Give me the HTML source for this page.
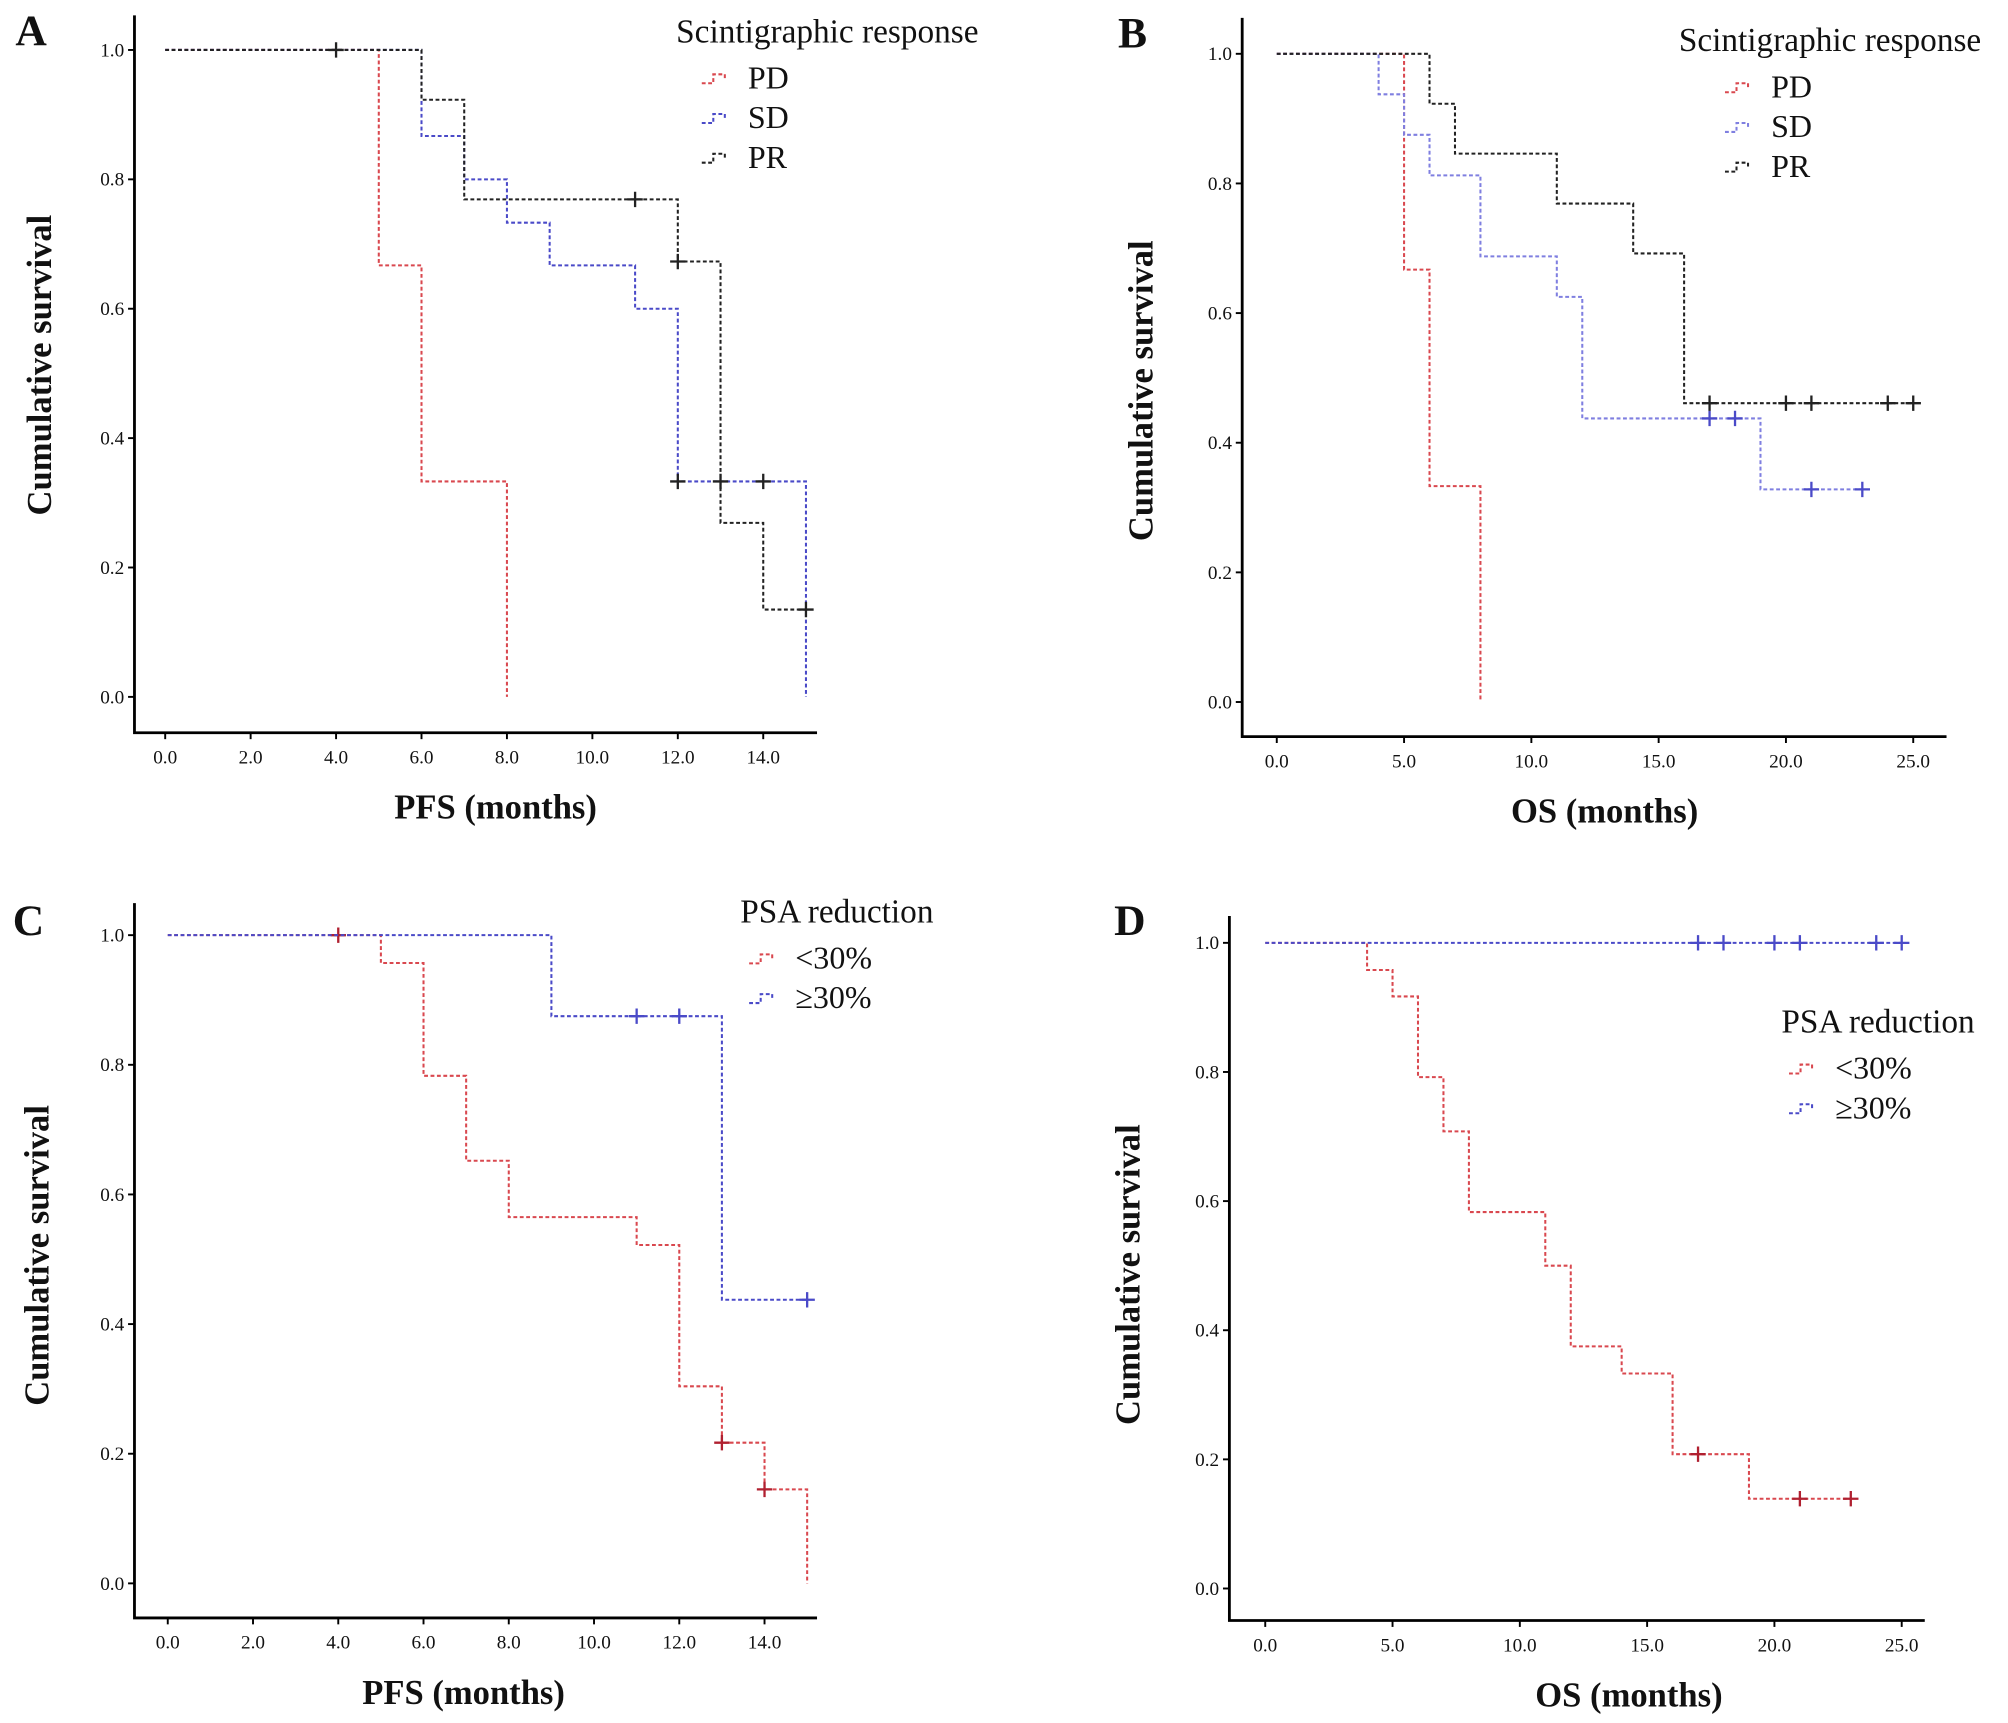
<!DOCTYPE html>
<html><head><meta charset="utf-8"><style>
html,body{margin:0;padding:0;background:#fff}
svg{display:block}
text{font-family:"Liberation Serif",serif;fill:#111}
</style></head><body>
<svg id="fig" width="2008" height="1723" viewBox="0 0 1568 1345" preserveAspectRatio="none" xmlns="http://www.w3.org/2000/svg"></svg>
<script>
// ---- Panel A data (PFS, scintigraphic response)
const aPD_t=[0,5,6,8], aPD_s=[1,0.667,0.333,0], aPD_end=8, aPD_ct=[], aPD_cs=[];
const aSD_t=[0,6,7,8,9,11,12,15], aSD_s=[1,0.867,0.8,0.733,0.667,0.6,0.333,0], aSD_end=15, aSD_ct=[12,13,14], aSD_cs=[0.333,0.333,0.333];
const aPR_t=[0,6,7,12,13,14], aPR_s=[1,0.923,0.769,0.673,0.269,0.135], aPR_end=15, aPR_ct=[4,11,12,15], aPR_cs=[1,0.769,0.673,0.135];
// ---- Panel B data (OS, scintigraphic response)
const bPD_t=[0,5,6,8], bPD_s=[1,0.667,0.333,0], bPD_end=8, bPD_ct=[], bPD_cs=[];
const bSD_t=[0,4,5,6,8,11,12,19], bSD_s=[1,0.9375,0.875,0.8125,0.6875,0.625,0.4375,0.328], bSD_end=23, bSD_ct=[17,18,21,23], bSD_cs=[0.4375,0.4375,0.328,0.328];
const bPR_t=[0,6,7,11,14,16], bPR_s=[1,0.923,0.846,0.769,0.692,0.461], bPR_end=25, bPR_ct=[17,20,21,24,25], bPR_cs=[0.461,0.461,0.461,0.461,0.461];
// ---- Panel C data (PFS, PSA reduction)
const cLo_t=[0,5,6,7,8,11,12,13,14,15], cLo_s=[1,0.957,0.783,0.652,0.565,0.522,0.304,0.217,0.145,0], cLo_end=15, cLo_ct=[4,13,14], cLo_cs=[1,0.217,0.145];
const cHi_t=[0,9,13], cHi_s=[1,0.875,0.4375], cHi_end=15, cHi_ct=[11,12,15], cHi_cs=[0.875,0.875,0.4375];
// ---- Panel D data (OS, PSA reduction)
const dLo_t=[0,4,5,6,7,8,11,12,14,16,19], dLo_s=[1,0.958,0.917,0.792,0.708,0.583,0.5,0.375,0.333,0.208,0.139], dLo_end=23, dLo_ct=[17,21,23], dLo_cs=[0.208,0.139,0.139];
const dHi_t=[0], dHi_s=[1], dHi_end=25, dHi_ct=[17,18,20,21,24,25], dHi_cs=[1,1,1,1,1,1];
// ---- tick labels
const yTicks=[0,0.2,0.4,0.6,0.8,1.0];
const xTicksPFS=[0,2,4,6,8,10,12,14];
const xTicksOS=[0,5,10,15,20,25];

const NS="http://www.w3.org/2000/svg";
const svg=document.getElementById('fig');
function mk(tag,attrs,parent){const e=document.createElementNS(NS,tag);for(const k in attrs)e.setAttribute(k,attrs[k]);(parent||svg).appendChild(e);return e;}

const RED="#d9484f", BLUE="#4a4ac8", LAV="#7f7fe0", BLK="#222";

function panel(cfg){
  const g=mk('g',{});
  
  
  const X=v=>cfg.x0+(v-cfg.xmin)*(cfg.x1-cfg.x0)/(cfg.xmax-cfg.xmin);
  const Y=v=>cfg.y0+(1-v)*(cfg.y1-cfg.y0);
  const ax=mk('path',{d:`M${cfg.ax} ${cfg.atop} V${cfg.ay} H${cfg.aright}`,stroke:'#000','stroke-width':2.2,fill:'none'},g);
  
  
  yTicks.forEach(v=>{
    mk('line',{x1:cfg.ax-5,x2:cfg.ax,y1:Y(v),y2:Y(v),stroke:'#000','stroke-width':1.5},g);
    const t=mk('text',{x:cfg.ax-8,y:Y(v)+5,'text-anchor':'end','font-size':15},g);
    t.textContent=v.toFixed(1);
    
    
  });
  cfg.xt.forEach(v=>{
    mk('line',{x1:X(v),x2:X(v),y1:cfg.ay,y2:cfg.ay+5,stroke:'#000','stroke-width':1.5},g);
    const t=mk('text',{x:X(v),y:cfg.ay+24,'text-anchor':'middle','font-size':15},g);
    t.textContent=v.toFixed(1);
    
    
  });
  const xt=mk('text',{x:cfg.xtx,y:cfg.ay+67,'text-anchor':'middle','font-size':27,'font-weight':'bold'},g);
  xt.textContent=cfg.xtitle;
  
  
  const yt=mk('text',{x:0,y:0,'text-anchor':'middle','font-size':27,'font-weight':'bold',transform:`translate(${cfg.ytx},${cfg.yty}) rotate(-90)`},g);
  yt.textContent='Cumulative survival';
  
  
  const lt=mk('text',{x:cfg.lx,y:cfg.ly,'font-size':34,'font-weight':'bold'},g);
  lt.textContent=cfg.id;
  
  
  cfg.series.forEach(s=>{
    let d=`M${X(s.t[0])} ${Y(s.s[0])}`;
    for(let i=1;i<s.t.length;i++){d+=` H${X(s.t[i])} V${Y(s.s[i])}`;}
    d+=` H${X(s.end)}`;
    const p=mk('path',{d:d,stroke:s.c,'stroke-width':1.6,fill:'none','stroke-dasharray':'3 2'},g);
    
    
    s.ct.forEach((t,i)=>{
      const cx=X(t),cy=Y(s.cs[i]);
      const m=mk('path',{d:`M${cx-6} ${cy} H${cx+6} M${cx} ${cy-6} V${cy+6}`,stroke:s.mc||s.c,'stroke-width':1.8},g);
      
      
    });
  });
  const ltl=mk('text',{x:cfg.legx,y:cfg.legy,'font-size':26},g);
  ltl.textContent=cfg.legTitle;
  
  
  cfg.series.forEach((s,i)=>{
    const yy=cfg.legy+32+31*i;
    const sx=cfg.symx;
    const sym=mk('path',{d:`M${sx} ${yy} H${sx+9} V${yy-7} H${sx+18} V${yy-2}`,stroke:s.c,'stroke-width':1.6,fill:'none','stroke-dasharray':'3 2'},g);
    
    
    const tx=mk('text',{x:sx+36,y:yy+4,'font-size':25},g);
    tx.textContent=s.label;
    
    
  });
}

panel({id:'A',xmin:0,xmax:14,x0:129,x1:596,y0:39,y1:544,ax:105,atop:12,ay:572,aright:638,xt:xTicksPFS,
  xtitle:'PFS (months)',xtx:387,ytx:40,yty:285,lx:12,ly:35,legTitle:'Scintigraphic response',legx:528,legy:33,symx:548,
  series:[{name:'pd',label:'PD',t:aPD_t,s:aPD_s,end:aPD_end,ct:aPD_ct,cs:aPD_cs,c:RED},
          {name:'sd',label:'SD',t:aSD_t,s:aSD_s,end:aSD_end,ct:aSD_ct,cs:aSD_cs,c:BLUE,mc:BLK},
          {name:'pr',label:'PR',t:aPR_t,s:aPR_s,end:aPR_end,ct:aPR_ct,cs:aPR_cs,c:BLK}]});
panel({id:'B',xmin:0,xmax:25,x0:997,x1:1494,y0:42,y1:548,ax:970,atop:14,ay:575,aright:1520,xt:xTicksOS,
  xtitle:'OS (months)',xtx:1253,ytx:900,yty:305,lx:873,ly:37,legTitle:'Scintigraphic response',legx:1311,legy:40,symx:1347,
  series:[{name:'pd',label:'PD',t:bPD_t,s:bPD_s,end:bPD_end,ct:bPD_ct,cs:bPD_cs,c:RED},
          {name:'sd',label:'SD',t:bSD_t,s:bSD_s,end:bSD_end,ct:bSD_ct,cs:bSD_cs,c:LAV,mc:BLUE},
          {name:'pr',label:'PR',t:bPR_t,s:bPR_s,end:bPR_end,ct:bPR_ct,cs:bPR_cs,c:BLK}]});
panel({id:'C',xmin:0,xmax:14,x0:131,x1:597,y0:730,y1:1236,ax:105,atop:705,ay:1263,aright:638,xt:xTicksPFS,
  xtitle:'PFS (months)',xtx:362,ytx:38,yty:980,lx:10,ly:730,legTitle:'PSA reduction',legx:578,legy:720,symx:585,
  series:[{name:'lt30',label:'<30%',t:cLo_t,s:cLo_s,end:cLo_end,ct:cLo_ct,cs:cLo_cs,c:RED,mc:'#b02030'},
          {name:'ge30',label:'≥30%',t:cHi_t,s:cHi_s,end:cHi_end,ct:cHi_ct,cs:cHi_cs,c:BLUE}]});
panel({id:'D',xmin:0,xmax:25,x0:988,x1:1485,y0:736,y1:1240,ax:960,atop:715,ay:1265,aright:1503,xt:xTicksOS,
  xtitle:'OS (months)',xtx:1272,ytx:890,yty:995,lx:870,ly:730,legTitle:'PSA reduction',legx:1391,legy:806,symx:1397,
  series:[{name:'lt30',label:'<30%',t:dLo_t,s:dLo_s,end:dLo_end,ct:dLo_ct,cs:dLo_cs,c:RED,mc:'#b02030'},
          {name:'ge30',label:'≥30%',t:dHi_t,s:dHi_s,end:dHi_end,ct:dHi_ct,cs:dHi_cs,c:BLUE}]});
</script>
</body></html>
